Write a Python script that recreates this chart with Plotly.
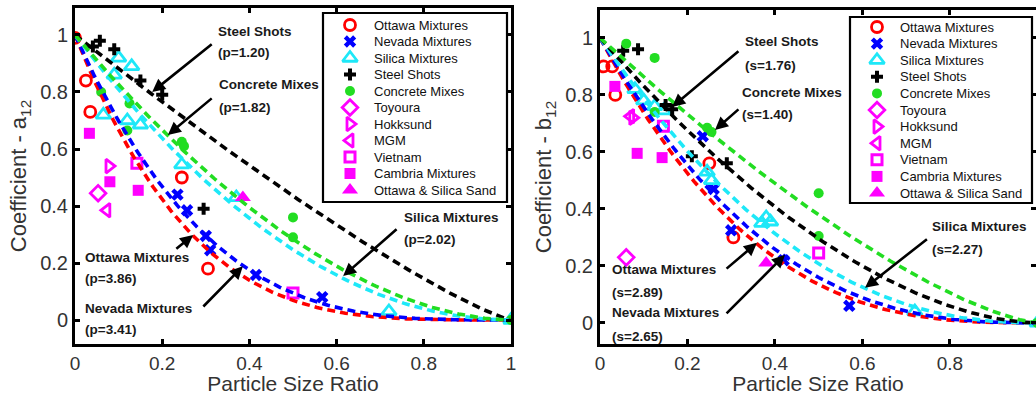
import numpy as np
import plotly.graph_objects as go

W, H = 1036, 395

# ---------------- data : left panel (coefficient a12) ----------------
a_ottawa_x = [0.0, 0.025, 0.035, 0.245, 0.305]
a_ottawa_y = [0.99, 0.84, 0.73, 0.50, 0.18]
a_nevada_x = [0.235, 0.257, 0.30, 0.31, 0.415, 0.567]
a_nevada_y = [0.44, 0.385, 0.295, 0.245, 0.158, 0.08]
a_silica_x = [0.10, 0.13, 0.09, 0.065, 0.12, 0.15, 0.245, 0.37, 0.72, 1.0]
a_silica_y = [0.92, 0.89, 0.86, 0.72, 0.70, 0.685, 0.545, 0.43, 0.03, 0.0]
a_steel_x = [0.057, 0.041, 0.09, 0.15, 0.20, 0.295]
a_steel_y = [0.98, 0.96, 0.95, 0.84, 0.79, 0.39]
a_concrete_x = [0.06, 0.125, 0.12, 0.245, 0.25, 0.5, 0.5, 1.0]
a_concrete_y = [0.80, 0.76, 0.665, 0.625, 0.61, 0.36, 0.29, 0.0]
a_toyoura_x, a_toyoura_y = [0.053], [0.445]
a_hokksund_x, a_hokksund_y = [0.078], [0.54]
a_mgm_x, a_mgm_y = [0.073], [0.385]
a_vietnam_x, a_vietnam_y = [0.142, 0.5], [0.55, 0.095]
a_cambria_x, a_cambria_y = [0.033, 0.08, 0.145], [0.655, 0.485, 0.455]
a_ossand_x, a_ossand_y = [0.385], [0.43]

# fitted exponents (a12 = (1 - ratio)^p)
p_fit = {"Ottawa": 3.86, "Nevada": 3.41, "Silica": 2.02, "Steel": 1.20, "Concrete": 1.82}

# ---------------- data : right panel (coefficient b12) ----------------
b_ottawa_x = [0.008, 0.028, 0.035, 0.25, 0.305]
b_ottawa_y = [0.90, 0.90, 0.80, 0.56, 0.30]
b_nevada_x = [0.235, 0.26, 0.30, 0.42, 0.57]
b_nevada_y = [0.655, 0.47, 0.325, 0.22, 0.06]
b_silica_x = [0.08, 0.10, 0.125, 0.145, 0.245, 0.255, 0.37, 0.38, 0.39, 0.72, 1.0]
b_silica_y = [0.82, 0.78, 0.76, 0.745, 0.53, 0.50, 0.35, 0.37, 0.355, 0.04, 0.0]
b_steel_x = [0.053, 0.087, 0.15, 0.165, 0.21, 0.29]
b_steel_y = [0.955, 0.96, 0.765, 0.75, 0.585, 0.56]
b_concrete_x = [0.06, 0.125, 0.125, 0.245, 0.255, 0.5, 0.5, 1.0]
b_concrete_y = [0.98, 0.93, 0.74, 0.685, 0.67, 0.455, 0.305, 0.0]
b_toyoura_x, b_toyoura_y = [0.06], [0.23]
b_hokksund_x, b_hokksund_y = [0.075], [0.72]
b_mgm_x, b_mgm_y = [0.07], [0.725]
b_vietnam_x, b_vietnam_y = [0.145, 0.5], [0.69, 0.245]
b_cambria_x, b_cambria_y = [0.034, 0.085, 0.142], [0.83, 0.595, 0.58]
b_ossand_x, b_ossand_y = [0.38], [0.21]

s_fit = {"Ottawa": 2.89, "Nevada": 2.65, "Silica": 2.27, "Steel": 1.76, "Concrete": 1.40}

tick_vals = [0, 0.2, 0.4, 0.6, 0.8, 1]
tick_text = ["0", "0.2", "0.4", "0.6", "0.8", "1"]

series_names = ["Ottawa Mixtures", "Nevada Mixtures", "Silica Mixtures", "Steel Shots",
                "Concrete Mixes", "Toyoura", "Hokksund", "MGM", "Vietnam",
                "Cambria Mixtures", "Ottawa & Silica Sand"]

# ---------------- styles ----------------
RED, BLUE, CYAN, BLACK, GREEN, MAG = "#ff0000", "#0000ff", "#1ee8f8", "#000000", "#22dd22", "#ff00ff"
styles = {
    "Ottawa Mixtures": dict(symbol="circle-open", color=RED, size=11, line=dict(width=2.8, color=RED)),
    "Nevada Mixtures": dict(symbol="x", color=BLUE, size=11, line=dict(width=0)),
    "Silica Mixtures": dict(symbol="triangle-up-open", color=CYAN, size=13, line=dict(width=2.8, color=CYAN)),
    "Steel Shots": dict(symbol="cross", color=BLACK, size=10, line=dict(width=0)),
    "Concrete Mixes": dict(symbol="circle", color=GREEN, size=10, line=dict(width=0)),
    "Toyoura": dict(symbol="diamond-open", color=MAG, size=12, line=dict(width=2.8, color=MAG)),
    "Hokksund": dict(symbol="triangle-right-open", color=MAG, size=12, line=dict(width=2.8, color=MAG)),
    "MGM": dict(symbol="triangle-left-open", color=MAG, size=12, line=dict(width=2.8, color=MAG)),
    "Vietnam": dict(symbol="square-open", color=MAG, size=10, line=dict(width=3, color=MAG)),
    "Cambria Mixtures": dict(symbol="square", color=MAG, size=11, line=dict(width=0)),
    "Ottawa & Silica Sand": dict(symbol="triangle-up", color=MAG, size=14, line=dict(width=0)),
}
fit_colors = {"Ottawa": RED, "Nevada": BLUE, "Silica": CYAN, "Steel": BLACK, "Concrete": GREEN}

left_pts = [(a_ottawa_x, a_ottawa_y), (a_nevada_x, a_nevada_y), (a_silica_x, a_silica_y),
            (a_steel_x, a_steel_y), (a_concrete_x, a_concrete_y), (a_toyoura_x, a_toyoura_y),
            (a_hokksund_x, a_hokksund_y), (a_mgm_x, a_mgm_y), (a_vietnam_x, a_vietnam_y),
            (a_cambria_x, a_cambria_y), (a_ossand_x, a_ossand_y)]
right_pts = [(b_ottawa_x, b_ottawa_y), (b_nevada_x, b_nevada_y), (b_silica_x, b_silica_y),
             (b_steel_x, b_steel_y), (b_concrete_x, b_concrete_y), (b_toyoura_x, b_toyoura_y),
             (b_hokksund_x, b_hokksund_y), (b_mgm_x, b_mgm_y), (b_vietnam_x, b_vietnam_y),
             (b_cambria_x, b_cambria_y), (b_ossand_x, b_ossand_y)]

fig = go.Figure()
xfit = np.linspace(0, 1, 201)

for (xa, ya), (pts, fits) in [(("x", "y"), (left_pts, p_fit)), (("x2", "y2"), (right_pts, s_fit))]:
    for name, (px_, py_) in zip(series_names, pts):
        fig.add_trace(go.Scatter(x=px_, y=py_, mode="markers", name=name, marker=styles[name],
                                 xaxis=xa, yaxis=ya, showlegend=False))
    for key in ["Ottawa", "Nevada", "Silica", "Steel", "Concrete"]:
        fig.add_trace(go.Scatter(x=xfit, y=(1 - xfit) ** fits[key], mode="lines",
                                 line=dict(color=fit_colors[key], width=3.6, dash="8px,5px"),
                                 xaxis=xa, yaxis=ya, showlegend=False, hoverinfo="skip"))

# ---------------- custom legends (pixel overlay axis) ----------------
LEG = [dict(box=(323, 13, 507, 202), mx=350, tx=372, y0=25, dy=16.5),
       dict(box=(850, 17, 1032, 203), mx=877, tx=898, y0=27, dy=16.6)]
shapes, annotations = [], []
for lg in LEG:
    x0, y0, x1, y1 = lg["box"]
    shapes.append(dict(type="rect", xref="x3", yref="y3", x0=x0, y0=y0, x1=x1, y1=y1,
                       line=dict(color="black", width=2.2), fillcolor="white", layer="below"))
    for i, name in enumerate(series_names):
        yy = lg["y0"] + i * lg["dy"]
        fig.add_trace(go.Scatter(x=[lg["mx"]], y=[yy], mode="markers", marker=styles[name],
                                 xaxis="x3", yaxis="y3", showlegend=False, hoverinfo="skip"))
        annotations.append(dict(x=lg["tx"], y=yy, xref="x3", yref="y3", text=name, showarrow=False,
                                xanchor="left", yanchor="middle",
                                font=dict(family="Liberation Sans", size=13, color="#111")))

# ---------------- text labels & arrows ----------------
TF = dict(family="Liberation Sans", size=13.5, color="#1a1a1a")
labels = [
    ("x", "y", 0.323, 1.011, 0.940, "Steel Shots", "(p=1.20)", (0.317, 0.972), (0.177, 0.800)),
    ("x", "y", 0.326, 0.825, 0.744, "Concrete Mixes", "(p=1.82)", (0.317, 0.782), (0.213, 0.649)),
    ("x", "y", 0.750, 0.358, 0.281, "Silica Mixtures", "(p=2.02)", (0.741, 0.323), (0.615, 0.154)),
    ("x", "y", 0.018, 0.221, 0.147, "Ottawa Mixtures", "(p=3.86)", (0.229, 0.246), (0.271, 0.298)),
    ("x", "y", 0.018, 0.042, -0.035, "Nevada Mixtures", "(p=3.41)", (0.291, 0.042), (0.385, 0.189)),
    ("x2", "y2", 0.327, 0.986, 0.905, "Steel Shots", "(s=1.76)", (0.320, 0.958), (0.165, 0.758)),
    ("x2", "y2", 0.320, 0.807, 0.730, "Concrete Mixes", "(s=1.40)", (0.320, 0.754), (0.263, 0.677)),
    ("x2", "y2", 0.755, 0.337, 0.256, "Silica Mixtures", "(s=2.27)", (0.751, 0.298), (0.606, 0.123)),
    ("x2", "y2", 0.023, 0.186, 0.105, "Ottawa Mixtures", "(s=2.89)", (0.286, 0.186), (0.359, 0.281)),
    ("x2", "y2", 0.023, 0.035, -0.046, "Nevada Mixtures", "(s=2.65)", (0.286, 0.028), (0.423, 0.239)),
]
for xr, yr, tx, ty1, ty2, t1, t2, tail, head in labels:
    for ty, t in [(ty1, t1), (ty2, t2)]:
        annotations.append(dict(x=tx, y=ty, xref=xr, yref=yr, text="<b>" + t + "</b>", showarrow=False,
                                xanchor="left", yanchor="middle", font=TF))
    annotations.append(dict(x=head[0], y=head[1], xref=xr, yref=yr, ax=tail[0], ay=tail[1],
                            axref=xr, ayref=yr, text="", showarrow=True, arrowhead=2,
                            arrowsize=1, arrowwidth=2.6, arrowcolor="black"))

# ---------------- layout ----------------
ML, MT, MB = 75, 8, 51
PW, PH = W - ML, H - MT - MB
TICKF = dict(family="Liberation Sans", size=19, color="#333")
TITF = dict(family="Liberation Sans", size=21, color="#333")


def xax(dom, rng):
    return dict(domain=dom, range=rng, tickvals=tick_vals, ticktext=tick_text, ticks="inside",
                ticklen=5, tickwidth=2.5, tickcolor="black", showline=True, linewidth=3,
                linecolor="black", mirror="ticks", showgrid=False, zeroline=False,
                tickfont=TICKF, automargin=False,
                title=dict(text="Particle Size Ratio", font=TITF, standoff=9))


def yax(dom, rng, title):
    return dict(domain=dom, range=rng, tickvals=tick_vals, ticktext=tick_text, ticks="inside",
                ticklen=5, tickwidth=2.5, tickcolor="black", showline=True, linewidth=3,
                linecolor="black", mirror="ticks", showgrid=False, zeroline=False,
                tickfont=dict(TICKF, size=20), automargin=False,
                title=dict(text=title, font=dict(TITF, size=22), standoff=8))


fig.update_layout(
    width=W, height=H, margin=dict(l=ML, r=0, t=MT, b=MB, pad=0),
    paper_bgcolor="white", plot_bgcolor="rgba(0,0,0,0)",
    xaxis=dict(xax([0, (511 - ML) / PW], [0, 1]), anchor="y"),
    yaxis=dict(yax([0.0, 1.0], [-0.0842, 1.0947], "Coefficient - a<sub>12</sub>"), anchor="x"),
    xaxis2=dict(xax([(600 - ML) / PW, 1.0], [0, 0.997]), anchor="y2"),
    yaxis2=dict(yax([0.0, (H - MB - 10) / PH], [-0.074, 1.098], "Coefficient - b<sub>12</sub>"), anchor="x2"),
    xaxis3=dict(domain=[0, 1], range=[ML, W], visible=False, anchor="y3", fixedrange=True),
    yaxis3=dict(domain=[0, 1], range=[H - MB, MT], visible=False, anchor="x3", fixedrange=True),
    shapes=shapes, annotations=annotations, showlegend=False,
)

fig.write_html("out.html")
